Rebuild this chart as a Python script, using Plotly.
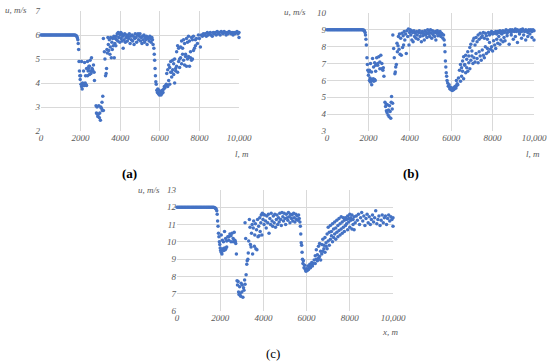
import plotly.graph_objects as go

# ---------------- data ----------------
flat_l = [0, 50, 100, 150, 200, 250, 300, 350, 400, 450, 500, 550, 600, 650, 700, 750, 800,
          850, 900, 950, 1000, 1050, 1100, 1150, 1200, 1250, 1300, 1350, 1400, 1450, 1500,
          1550, 1600, 1650, 1700, 1750, 1780, 1810, 1840]
flat_u_a = [6.0, 6.0, 6.0, 6.0, 6.0, 6.0, 6.0, 6.0, 6.0, 6.0, 6.0, 6.0, 6.0, 6.0, 6.0, 6.0, 6.0,
            6.0, 6.0, 6.0, 6.0, 6.0, 6.0, 6.0, 6.0, 6.0, 6.0, 6.0, 6.0, 6.0, 6.0,
            6.0, 6.0, 6.0, 6.0, 5.99, 5.97, 5.94, 5.88]
flat_u_b = [9.0, 9.0, 9.0, 9.0, 9.0, 9.0, 9.0, 9.0, 9.0, 9.0, 9.0, 9.0, 9.0, 9.0, 9.0, 9.0, 9.0,
            9.0, 9.0, 9.0, 9.0, 9.0, 9.0, 9.0, 9.0, 9.0, 9.0, 9.0, 9.0, 9.0, 9.0,
            9.0, 9.0, 9.0, 9.0, 8.99, 8.97, 8.93, 8.85]
flat_u_c = [12.0, 12.0, 12.0, 12.0, 12.0, 12.0, 12.0, 12.0, 12.0, 12.0, 12.0, 12.0, 12.0, 12.0,
            12.0, 12.0, 12.0, 12.0, 12.0, 12.0, 12.0, 12.0, 12.0, 12.0, 12.0, 12.0, 12.0, 12.0,
            12.0, 12.0, 12.0, 12.0, 12.0, 12.0, 12.0, 11.98, 11.95, 11.9, 11.8]

# scattered part, (l, u) pairs
points_a = [
    (1860, 5.8), (1880, 5.65), (1900, 5.4), (1920, 4.9), (1940, 4.5), (1960, 4.3), (1980, 4.15),
    (2000, 4.3), (2020, 3.95), (2050, 3.85), (2080, 3.75), (2100, 4.0), (2130, 3.9), (2160, 3.95),
    (2200, 3.9), (2230, 4.0), (2260, 3.95), (2300, 3.9),
    (2050, 4.9), (2150, 4.5), (2200, 4.85), (2250, 4.3), (2300, 4.6), (2350, 4.9), (2380, 4.5),
    (2420, 4.7), (2450, 4.35), (2480, 4.95), (2520, 4.4), (2550, 5.05), (2580, 4.6), (2620, 4.5),
    (2650, 4.75), (2680, 4.45), (2700, 4.1), (2350, 4.3), (2400, 4.6), (2500, 4.5), (2600, 4.55),
    (2450, 4.7),
    (2780, 3.05), (2800, 2.75), (2830, 3.0), (2850, 2.7), (2870, 2.6), (2900, 2.7), (2920, 3.05),
    (2950, 2.55), (2970, 2.75), (3000, 2.45), (3020, 3.0), (3050, 2.95), (3080, 3.2), (3100, 2.85),
    (3120, 3.45), (3150, 2.85),
    (3150, 5.85), (3200, 5.3), (3230, 5.0), (3260, 4.3), (3290, 4.4), (3310, 4.6), (3330, 5.4),
    (3350, 5.25), (3380, 5.9), (3400, 5.6), (3420, 5.35), (3450, 5.8), (3480, 5.2), (3500, 5.5),
    (3520, 5.9), (3550, 5.05), (3580, 5.7), (3600, 5.4), (3620, 5.85), (3650, 5.55), (3680, 5.95),
    (3700, 5.05), (3730, 5.65), (3750, 5.85), (3780, 5.55), (3800, 5.95), (3820, 5.8), (3850, 6.05),
    (3880, 5.75), (3900, 6.1), (3930, 5.9), (3950, 6.05), (3980, 5.7), (4000, 6.0), (4030, 6.1),
    (4050, 5.85), (4080, 6.05), (4100, 5.75), (4130, 5.95), (4150, 5.45), (4180, 6.0), (4200, 5.8),
    (4230, 6.05), (4260, 5.7), (4300, 5.9), (4330, 6.0), (4360, 5.75), (4400, 5.95), (4430, 5.85),
    (4460, 6.05), (4500, 5.65), (4530, 5.95), (4560, 5.8), (4600, 6.0), (4630, 5.75), (4660, 5.95),
    (4700, 5.6), (4730, 5.85), (4760, 6.05), (4800, 5.9), (4830, 5.7), (4860, 6.0), (4900, 6.05),
    (4930, 5.8), (4960, 5.95), (5000, 6.05), (5030, 5.75), (5060, 5.9), (5100, 5.65), (5130, 5.95),
    (5160, 5.8), (5200, 6.0), (5230, 5.7), (5260, 5.9), (5300, 5.8), (5330, 5.95), (5360, 5.6),
    (5400, 5.85), (5430, 5.9), (5460, 5.75), (5500, 5.95), (5530, 5.85), (5560, 5.7), (5600, 5.9),
    (5630, 5.8), (5660, 5.6),
    (5700, 5.45), (5720, 5.2), (5740, 4.95), (5760, 4.6), (5780, 4.3), (5800, 4.05), (5820, 3.95),
    (5850, 3.7), (5880, 3.6), (5900, 3.75), (5930, 3.55), (5960, 3.7), (5980, 3.5), (6000, 3.6),
    (6030, 3.55), (6060, 3.5), (6080, 3.65), (6100, 3.55), (6130, 3.7), (6160, 3.6), (6200, 3.75),
    (6230, 3.85), (6260, 3.8), (6300, 3.9), (6330, 3.95),
    (6350, 4.4), (6400, 4.55), (6450, 4.75), (6500, 4.65), (6550, 4.9), (6600, 4.45), (6650, 4.95),
    (6700, 4.8), (6750, 5.0), (6800, 4.6), (6850, 5.3), (6900, 5.55), (6950, 5.45), (7000, 5.0),
    (7050, 5.5), (7100, 5.75), (7150, 5.45), (7200, 5.8), (7250, 5.65), (7300, 5.2), (7350, 5.85),
    (7400, 5.7), (7450, 5.95), (7500, 5.75), (7550, 5.05), (7600, 5.9), (7650, 5.8), (7700, 5.95),
    (6400, 3.85), (6450, 4.1), (6500, 3.95), (6550, 4.45), (6600, 4.25), (6650, 4.55), (6700, 4.35),
    (6750, 4.0), (6800, 4.5), (6850, 4.7), (6900, 4.45), (6950, 4.9), (7000, 4.65), (7050, 5.05),
    (7100, 4.8), (7150, 5.2), (7200, 4.95), (7250, 4.75), (7300, 5.1), (7350, 4.7), (7400, 5.0),
    (7450, 5.1), (7500, 4.7), (7550, 5.3), (7600, 4.95), (7650, 5.0), (7700, 5.35), (7750, 5.45),
    (7800, 5.55),
    (7800, 5.8), (7850, 5.85), (7900, 5.65), (7950, 6.0), (8000, 5.85), (8050, 5.5), (8100, 6.0),
    (8150, 5.95), (8200, 6.05), (8250, 6.0), (8300, 6.05), (8350, 5.95), (8400, 6.1), (8450, 6.0),
    (8500, 6.05), (8550, 6.1), (8600, 6.0), (8650, 5.95), (8700, 6.1), (8750, 6.05), (8800, 6.1),
    (8850, 6.0), (8900, 6.15), (8950, 6.05), (9000, 6.1), (9050, 6.0), (9100, 6.15), (9150, 6.1),
    (9200, 6.05), (9250, 6.15), (9300, 6.1), (9350, 6.0), (9400, 6.1), (9450, 6.05), (9500, 6.15),
    (9550, 6.1), (9600, 6.05), (9650, 6.1), (9700, 6.0), (9750, 6.1), (9800, 6.05), (9850, 6.1),
    (9900, 6.15), (9950, 6.05), (10000, 5.9), (10000, 6.1),
]

points_b = [
    (1860, 8.7), (1880, 8.45), (1900, 8.1), (1930, 7.35), (1950, 6.95), (1970, 6.6), (2000, 6.3),
    (2020, 6.5), (2050, 6.0), (2080, 6.15), (2100, 5.9), (2130, 6.05), (2160, 5.75), (2200, 6.0),
    (2230, 6.1), (2260, 5.95), (2300, 6.05), (2330, 6.0),
    (2050, 6.6), (2100, 7.0), (2150, 6.5), (2200, 7.3), (2250, 6.8), (2300, 7.05), (2350, 6.55),
    (2400, 7.35), (2450, 6.9), (2500, 7.4), (2550, 6.7), (2600, 7.5), (2650, 7.0), (2700, 6.6),
    (2720, 6.75), (2750, 6.25), (2450, 7.0), (2550, 7.1), (2650, 6.7), (2350, 6.9),
    (2800, 4.7), (2830, 4.45), (2850, 4.6), (2870, 4.2), (2900, 4.1), (2920, 4.55), (2950, 3.95),
    (2970, 4.25), (3000, 3.85), (3020, 4.5), (3050, 4.15), (3080, 3.75), (3100, 4.7), (3120, 5.05),
    (3150, 4.3), (3170, 4.65),
    (3180, 8.7), (3220, 7.9), (3250, 7.35), (3280, 6.4), (3300, 6.5), (3320, 6.8), (3350, 6.95),
    (3380, 8.2), (3400, 7.7), (3430, 8.05), (3450, 8.6), (3480, 7.85), (3500, 8.75), (3530, 7.55),
    (3560, 8.5), (3590, 7.5), (3620, 8.8), (3650, 7.95), (3680, 8.65), (3700, 8.1), (3730, 8.9),
    (3760, 8.4), (3800, 8.75), (3830, 7.6), (3860, 8.95), (3900, 8.6), (3930, 9.05), (3960, 8.1),
    (3990, 8.85), (4020, 9.0),
    (4050, 8.7), (4080, 8.95), (4100, 8.4), (4130, 8.85), (4160, 8.3), (4200, 8.95), (4230, 8.6),
    (4260, 8.8), (4300, 8.5), (4330, 8.9), (4360, 8.7), (4400, 8.45), (4430, 8.85), (4460, 8.95),
    (4500, 8.6), (4530, 8.8), (4560, 8.3), (4600, 8.9), (4630, 8.65), (4660, 8.8), (4700, 8.4),
    (4730, 8.95), (4760, 8.7), (4800, 8.85), (4830, 8.55), (4860, 9.0), (4900, 8.75), (4930, 8.9),
    (4960, 8.6), (5000, 9.0), (5030, 8.8), (5060, 8.5), (5100, 8.95), (5130, 8.7), (5160, 8.85),
    (5200, 8.6), (5230, 8.9), (5260, 8.4), (5300, 8.8), (5330, 8.95), (5360, 8.65), (5400, 8.85),
    (5430, 8.7), (5460, 8.9), (5500, 8.6), (5530, 8.8), (5560, 8.75), (5600, 8.5), (5630, 8.7),
    (5660, 8.4),
    (5680, 8.1), (5700, 7.7), (5720, 7.15), (5740, 6.8), (5760, 6.45), (5780, 6.25), (5800, 6.0),
    (5830, 5.85), (5860, 5.65), (5900, 5.75), (5930, 5.5), (5960, 5.6), (5990, 5.45), (6020, 5.55),
    (6050, 5.4), (6080, 5.5), (6110, 5.45), (6140, 5.6), (6170, 5.5), (6200, 5.65), (6230, 5.55),
    (6260, 5.7), (6290, 5.8), (6320, 5.75),
    (6250, 6.0), (6350, 6.15), (6400, 6.6), (6450, 6.95), (6500, 6.75), (6550, 7.15), (6600, 7.4),
    (6650, 6.95), (6700, 7.5), (6750, 7.25), (6800, 7.7), (6850, 7.45), (6900, 7.95), (6950, 8.15),
    (7000, 7.75), (7050, 8.35), (7100, 8.5), (7150, 8.1), (7200, 8.55), (7250, 8.3), (7300, 8.7),
    (7350, 8.45), (7400, 8.8), (7450, 8.55), (7500, 8.65), (7550, 8.85), (7600, 8.5), (7650, 8.8),
    (7700, 8.65), (7750, 8.45), (7800, 8.85), (7850, 8.7),
    (6450, 5.95), (6500, 6.25), (6550, 6.55), (6600, 6.1), (6650, 6.9), (6700, 6.45), (6750, 6.75),
    (6800, 6.55), (6850, 7.05), (6900, 6.7), (6950, 7.2), (7000, 7.45), (7050, 7.0), (7100, 7.35),
    (7150, 7.1), (7200, 7.6), (7250, 7.3), (7300, 7.05), (7350, 7.7), (7400, 7.45), (7450, 7.2),
    (7500, 7.8), (7550, 7.5), (7600, 7.35), (7650, 8.0), (7700, 7.6), (7750, 7.9), (7800, 7.7),
    (7850, 8.25), (7900, 7.85), (7950, 8.0), (8000, 7.75), (8050, 8.35), (8100, 8.1), (8150, 7.9),
    (8200, 8.45), (8250, 8.2), (8300, 8.6), (8350, 8.15), (8400, 8.4), (8450, 8.75), (8500, 8.3),
    (8550, 8.55), (8600, 8.35), (8700, 8.65), (8800, 8.15), (8900, 8.7), (9000, 8.45),
    (9100, 8.6), (9200, 8.25), (9300, 8.75), (9400, 8.5), (9500, 8.7), (9600, 8.4), (9700, 8.6),
    (9800, 8.75), (9900, 8.55), (10000, 8.4),
    (7900, 8.8), (7950, 8.9), (8000, 8.75), (8050, 8.85), (8100, 8.8), (8150, 8.9), (8200, 8.75),
    (8250, 8.9), (8300, 8.85), (8350, 8.95), (8400, 8.8), (8450, 8.9), (8500, 8.95), (8550, 8.85),
    (8600, 8.9), (8650, 9.0), (8700, 8.8), (8750, 8.95), (8800, 8.9), (8850, 9.0), (8900, 8.85),
    (8950, 9.0), (9000, 8.95), (9050, 8.9), (9100, 9.05), (9150, 8.9), (9200, 9.0), (9250, 8.95),
    (9300, 8.85), (9350, 9.0), (9400, 8.9), (9450, 9.05), (9500, 8.95), (9550, 8.9), (9600, 9.0),
    (9650, 8.95), (9700, 8.85), (9750, 9.0), (9800, 8.95), (9850, 9.0), (9900, 8.9), (9950, 9.0),
    (10000, 8.95),
]

points_c = [
    (1860, 11.6), (1880, 11.2), (1900, 10.9), (1920, 10.5), (1940, 10.3), (1960, 10.0),
    (1980, 9.85), (2000, 9.65), (2020, 9.5), (2050, 9.4), (2080, 9.3), (2100, 9.55), (2130, 9.6),
    (2160, 9.5), (2200, 9.65), (2230, 9.55), (2260, 9.6), (2300, 9.7),
    (2050, 10.4), (2100, 10.1), (2150, 10.0), (2200, 10.6), (2250, 10.2), (2300, 10.05),
    (2350, 10.3), (2400, 10.1), (2450, 10.45), (2500, 10.0), (2550, 10.5), (2600, 10.2),
    (2650, 10.55), (2700, 10.0), (2720, 9.9), (2750, 9.3), (2400, 10.3), (2500, 10.35),
    (2600, 10.0), (2680, 10.1),
    (2780, 7.75), (2800, 7.5), (2830, 7.7), (2850, 7.1), (2870, 6.95), (2900, 7.4), (2920, 7.0),
    (2950, 6.85), (2970, 7.6), (3000, 7.1), (3020, 7.5), (3050, 6.8), (3080, 7.35), (3100, 7.2),
    (3130, 7.8), (3150, 7.55),
    (3150, 11.1), (3180, 10.2), (3200, 8.1), (3230, 8.7), (3250, 8.9), (3280, 9.0), (3300, 9.35),
    (3320, 10.05), (3350, 11.3), (3380, 10.85), (3400, 9.85), (3430, 9.7), (3450, 10.5),
    (3480, 11.0), (3500, 9.3), (3530, 10.8), (3550, 11.2), (3580, 9.75), (3600, 10.4),
    (3630, 11.05), (3650, 9.6), (3680, 10.7), (3700, 9.55), (3730, 11.3), (3750, 10.3),
    (3780, 10.9), (3800, 10.35), (3830, 11.4), (3850, 10.6), (3880, 11.1), (3900, 11.55),
    (3930, 10.4), (3950, 11.65), (3980, 11.3), (4000, 11.6),
    (4030, 11.0), (4060, 11.55), (4100, 11.2), (4130, 10.8), (4160, 11.5), (4200, 11.1),
    (4230, 11.6), (4260, 10.5), (4300, 11.35), (4330, 11.0), (4360, 11.65), (4400, 11.2),
    (4430, 10.9), (4460, 11.5), (4500, 11.1), (4530, 11.6), (4560, 10.85), (4600, 11.3),
    (4630, 11.55), (4660, 11.0), (4700, 11.4), (4730, 11.15), (4760, 11.65), (4800, 11.3),
    (4830, 10.95), (4860, 11.7), (4900, 11.45), (4930, 11.2), (4960, 11.65), (5000, 11.35),
    (5030, 11.0), (5060, 11.6), (5100, 11.4), (5130, 11.25), (5160, 11.7), (5200, 11.45),
    (5230, 11.1), (5260, 11.6), (5300, 11.35), (5330, 11.55), (5360, 11.2), (5400, 11.65),
    (5430, 11.4), (5460, 11.15), (5500, 11.6), (5530, 11.3), (5560, 11.5), (5600, 11.25),
    (5630, 11.55), (5660, 11.35),
    (5690, 11.15), (5710, 10.9), (5730, 10.45), (5750, 9.95), (5770, 9.8), (5790, 9.4),
    (5810, 9.0), (5830, 8.75), (5850, 8.9), (5880, 8.5), (5910, 8.65), (5940, 8.4), (5970, 8.3),
    (6000, 8.45), (6030, 8.35), (6060, 8.6), (6090, 8.4), (6120, 8.55), (6150, 8.7), (6180, 8.5),
    (6210, 8.65), (6240, 8.8), (6270, 8.6), (6300, 8.75),
    (6350, 8.95), (6400, 9.2), (6450, 9.55), (6500, 9.25), (6550, 9.75), (6600, 9.9),
    (6650, 9.45), (6700, 9.85), (6750, 10.15), (6800, 9.8), (6850, 10.25), (6900, 9.95),
    (6950, 10.45), (7000, 10.85), (7050, 10.55), (7100, 10.95), (7150, 10.6), (7200, 11.05),
    (7250, 10.75), (7300, 11.15), (7350, 10.8), (7400, 11.25), (7450, 10.95), (7500, 11.35),
    (7550, 11.05), (7600, 11.45), (7650, 11.15), (7700, 11.4), (7750, 11.25),
    (6400, 8.75), (6450, 9.0), (6500, 8.9), (6550, 9.05), (6600, 9.15), (6650, 8.95), (6700, 9.3),
    (6750, 9.45), (6800, 9.6), (6850, 9.4), (6900, 9.75), (6950, 9.6), (7000, 10.05),
    (7050, 9.8), (7100, 10.15), (7150, 10.35), (7200, 10.0), (7250, 10.25), (7300, 10.45),
    (7350, 10.15), (7400, 10.55), (7450, 10.3), (7500, 10.65), (7550, 10.4), (7600, 10.75),
    (7650, 10.5), (7700, 10.85), (7750, 10.6), (7800, 10.95), (7850, 11.05), (7900, 10.7),
    (7950, 11.15), (8000, 10.85), (8050, 11.25), (8100, 10.75), (8150, 11.0), (8200, 10.7),
    (7800, 11.4), (7850, 11.3), (7900, 11.5), (7950, 11.35), (8000, 11.6), (8050, 11.4),
    (8100, 11.55), (8150, 11.3), (8200, 11.45), (8250, 11.1), (8300, 11.5), (8350, 11.25),
    (8400, 11.6), (8450, 11.0), (8500, 11.4), (8550, 11.7), (8600, 11.2), (8650, 11.5),
    (8700, 10.95), (8750, 11.35), (8800, 11.6), (8850, 11.1), (8900, 11.45), (8950, 11.0),
    (9000, 11.3), (9050, 11.55), (9100, 11.15), (9150, 11.4), (9200, 11.8), (9250, 11.05),
    (9300, 11.3), (9350, 11.5), (9400, 10.95), (9450, 11.25), (9500, 11.55), (9550, 11.1),
    (9600, 11.4), (9650, 11.5), (9700, 11.0), (9750, 11.35), (9800, 11.55), (9850, 11.2),
    (9900, 11.45), (9950, 11.3), (10000, 10.9), (10000, 11.4),
]

x_tickvals = [0, 2000, 4000, 6000, 8000, 10000]
x_ticktext = ["0", "2000", "4000", "6000", "8000", "10,000"]
y_range_a = [2, 7]
y_range_b = [3, 10]
y_range_c = [6, 13]
x_titles = ["l, m", "l, m", "x, m"]
panel_labels = ["(a)", "(b)", "(c)"]

# ---------------- figure ----------------
W, H = 550, 363
BLUE = "#4472C4"
GRID = "#d9d9d9"
TXT = "#595959"
SERIF = "Liberation Serif"
tick_font = dict(family=SERIF, size=9, color=TXT, style="italic")

fig = go.Figure()

panels = [
    (flat_u_a, points_a, "x", "y"),
    (flat_u_b, points_b, "x2", "y2"),
    (flat_u_c, points_c, "x3", "y3"),
]
for flat_u, pts, xa, ya in panels:
    xs = flat_l + [p[0] for p in pts]
    ys = flat_u + [p[1] for p in pts]
    fig.add_trace(go.Scatter(x=xs, y=ys, mode="markers", xaxis=xa, yaxis=ya,
                             marker=dict(size=3.5, color=BLUE), showlegend=False,
                             hoverinfo="skip", cliponaxis=False))

# plot areas in pixels: (left, right, top, bottom)
boxes = [(41, 239, 11, 131), (327, 534, 13, 131), (177, 393, 190, 311)]
yranges = [y_range_a, y_range_b, y_range_c]
names = ["", "2", "3"]
for (l, r, t, b), yr, n in zip(boxes, yranges, names):
    fig.layout["xaxis" + n] = dict(
        domain=[l / W, r / W], range=[0, 10000], tickvals=x_tickvals, ticktext=x_ticktext,
        showgrid=True, gridcolor=GRID, gridwidth=1, zeroline=False, showline=False,
        ticks="", tickfont=tick_font, anchor="y" + n, fixedrange=True, automargin=False)
    fig.layout["yaxis" + n] = dict(
        domain=[1 - b / H, 1 - t / H], range=yr, dtick=1,
        showgrid=True, gridcolor=GRID, gridwidth=1, zeroline=False, showline=False,
        ticks="", tickfont=tick_font, anchor="x" + n, fixedrange=True, automargin=False)

ann_font = dict(family=SERIF, size=9, color=TXT, style="italic")
ylab_pos = [(15.5, 10), (295, 12.5), (149, 190)]
xlab_pos = [(242, 154), (533, 154), (390, 332)]
plab_pos = [(129, 174), (411, 174), (273, 353)]
for i in range(3):
    fig.add_annotation(text="u, m/s", x=ylab_pos[i][0] / W, y=1 - ylab_pos[i][1] / H,
                       xref="paper", yref="paper", showarrow=False, font=ann_font,
                       xanchor="center", yanchor="middle")
    fig.add_annotation(text=x_titles[i], x=xlab_pos[i][0] / W, y=1 - xlab_pos[i][1] / H,
                       xref="paper", yref="paper", showarrow=False, font=ann_font,
                       xanchor="center", yanchor="middle")
    fig.add_annotation(text=panel_labels[i], x=plab_pos[i][0] / W, y=1 - plab_pos[i][1] / H,
                       xref="paper", yref="paper", showarrow=False,
                       font=dict(family=SERIF, size=13, color="#000000",
                                 weight="bold" if i < 2 else "normal"),
                       xanchor="center", yanchor="middle")

fig.update_layout(width=W, height=H, margin=dict(l=0, r=0, t=0, b=0, autoexpand=False),
                  paper_bgcolor="white", plot_bgcolor="white", hovermode=False)

fig.write_html("out.html",
               config={"displayModeBar": False, "staticPlot": True},
               post_script="document.body.style.margin='0';"
                           "document.body.style.overflow='hidden';")
